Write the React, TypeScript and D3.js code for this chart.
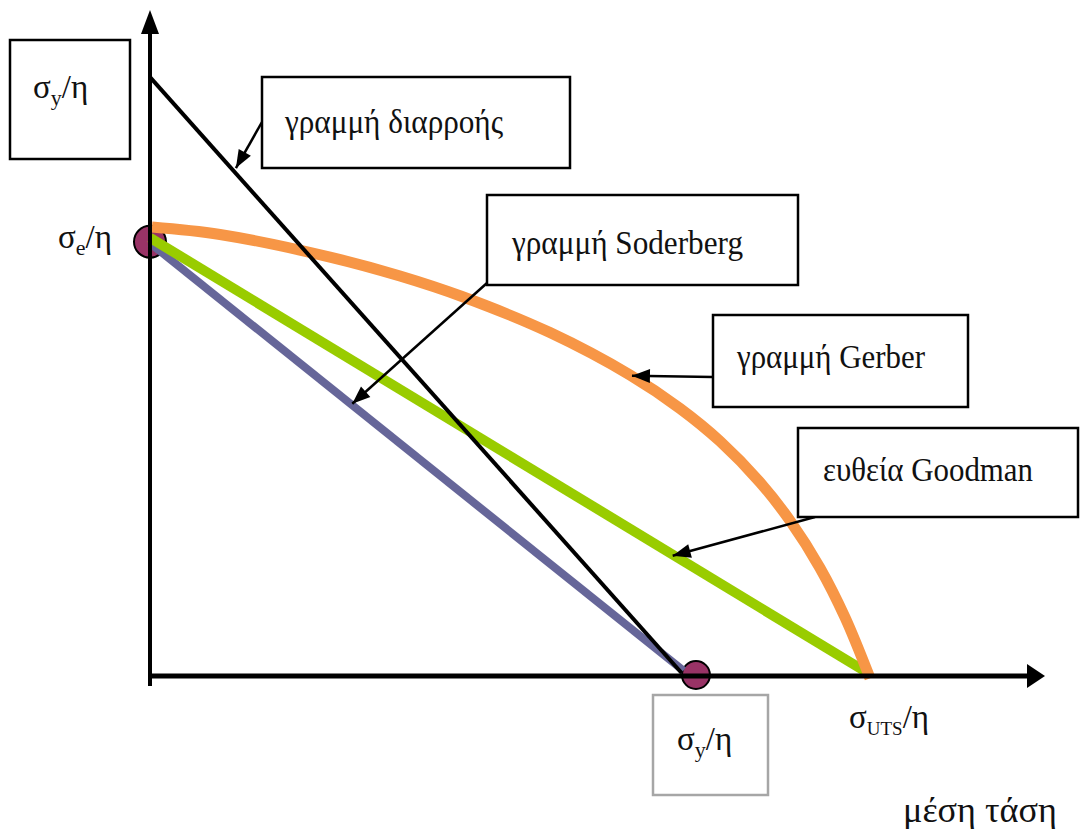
import React from "react";
import * as d3 from "d3";

// Stress units on both axes (0..100 spans each axis up to its arrow tip)
const yieldLine: [number, number][] = [[0, 90.2], [59.4, 0.45]];
const soderbergLine: [number, number][] = [[0, 65.2], [59.6, 0.8]];
const goodmanLine: [number, number][] = [[0, 66.0], [80.4, 0.3]];
const gerberCurve: [number, number][] = [
  [0.22, 67.62], [7.82, 66.49], [20.11, 63.09], [27.93, 60.24], [34.86, 57.15],
  [44.69, 51.72], [53.63, 45.33], [59.22, 40.29], [63.69, 35.35], [68.16, 29.17],
  [71.51, 23.4], [74.86, 16.27], [77.65, 8.84], [80.45, -0.35],
];
const enduranceMark: [number, number] = [0, 65.4];
const yieldMark: [number, number] = [61.0, 0.15];

const calloutLabels = ["γραμμή διαρροής", "γραμμή Soderberg", "γραμμή Gerber", "ευθεία Goodman"];
// where each callout arrow lands on its line
const calloutTargets: [number, number][] = [[9.6, 76.5], [22.6, 41.0], [53.85, 45.2], [58.4, 18.1]];

const W = 1080;
const H = 829;
const FONT = "Liberation Serif, Tinos, DejaVu Serif, serif";

const x = d3.scaleLinear().domain([0, 100]).range([150, 1045]);
const y = d3.scaleLinear().domain([0, 100]).range([676, 12]);

const lineGen = d3.line<[number, number]>().x((d) => x(d[0])).y((d) => y(d[1]));
const curveGen = d3
  .line<[number, number]>()
  .x((d) => x(d[0]))
  .y((d) => y(d[1]))
  .curve(d3.curveCatmullRom.alpha(0.5));

function arrowHead(x1: number, y1: number, x2: number, y2: number, len = 18, half = 7) {
  const a = Math.atan2(y2 - y1, x2 - x1);
  const bx = x2 - len * Math.cos(a);
  const by = y2 - len * Math.sin(a);
  const px = -Math.sin(a) * half;
  const py = Math.cos(a) * half;
  return `${x2},${y2} ${bx + px},${by + py} ${bx - px},${by - py}`;
}

type Box = { x: number; y: number; w: number; h: number; tx: number; ty: number; tl: number; from: [number, number] };
const boxes: Box[] = [
  { x: 262, y: 77, w: 308, h: 91, tx: 285, ty: 133, tl: 218, from: [262, 122] },
  { x: 487, y: 195, w: 311, h: 90, tx: 512, ty: 254, tl: 231, from: [487, 283] },
  { x: 713, y: 315, w: 255, h: 92, tx: 737, ty: 368, tl: 188, from: [713, 377] },
  { x: 798, y: 428, w: 280, h: 89, tx: 823, ty: 481, tl: 210, from: [815, 517] },
];

const textStyle = { fontFamily: FONT };

function SigmaLabel({ tx, ty, sub, subSize = 22 }: { tx: number; ty: number; sub: string; subSize?: number }) {
  return (
    <text x={tx} y={ty} fontSize={33} fill="#111" style={textStyle}>
      σ
      <tspan fontSize={subSize} dy={7}>{sub}</tspan>
      <tspan dy={-7}>/η</tspan>
    </text>
  );
}

export default function App() {
  return (
    <svg width={W} height={H} style={{ position: "absolute", left: 0, top: 0, background: "#fff" }}>
      <rect width={W} height={H} fill="#fff" />

      {/* endpoint markers */}
      <circle cx={x(enduranceMark[0])} cy={y(enduranceMark[1])} r={16} fill="#993366" stroke="#000" strokeWidth={2} />
      <circle cx={x(yieldMark[0])} cy={y(yieldMark[1])} r={14} fill="#993366" stroke="#000" strokeWidth={2} />

      {/* failure criteria */}
      <path d={lineGen(soderbergLine) ?? ""} stroke="#666699" strokeWidth={8} fill="none" />
      <path d={lineGen(goodmanLine) ?? ""} stroke="#99CC00" strokeWidth={10} fill="none" />
      <path d={curveGen(gerberCurve) ?? ""} stroke="#F79646" strokeWidth={11} fill="none" />
      <path d={lineGen(yieldLine) ?? ""} stroke="#000" strokeWidth={4} fill="none" />

      {/* axes */}
      <line x1={x(0)} y1={y(-1.5)} x2={x(0)} y2={y(100) + 10} stroke="#000" strokeWidth={4} />
      <polygon points={arrowHead(x(0), y(0), x(0), y(100) - 2, 24, 9)} fill="#000" />
      <line x1={x(0)} y1={y(0)} x2={x(100) - 10} y2={y(0)} stroke="#000" strokeWidth={5} />
      <polygon points={arrowHead(x(0), y(0), x(100), y(0), 18, 12)} fill="#000" />

      {/* callouts */}
      {boxes.map((b, i) => {
        const [tx, ty] = [x(calloutTargets[i][0]), y(calloutTargets[i][1])];
        return (
          <g key={calloutLabels[i]}>
            <line x1={b.from[0]} y1={b.from[1]} x2={tx} y2={ty} stroke="#000" strokeWidth={2.5} />
            <polygon points={arrowHead(b.from[0], b.from[1], tx, ty, 18, 7)} fill="#000" />
            <rect x={b.x} y={b.y} width={b.w} height={b.h} fill="#fff" stroke="#000" strokeWidth={2.5} />
            <text
              x={b.tx}
              y={b.ty}
              fontSize={33}
              fill="#111"
              style={textStyle}
              textLength={b.tl}
              lengthAdjust="spacingAndGlyphs"
            >
              {calloutLabels[i]}
            </text>
          </g>
        );
      })}

      {/* axis value labels */}
      <rect x={10} y={40} width={120} height={119} fill="#fff" stroke="#000" strokeWidth={2.5} />
      <SigmaLabel tx={33} ty={98} sub="y" />
      <SigmaLabel tx={58} ty={248} sub="e" />
      <rect x={653} y={695} width={115} height={100} fill="#fff" stroke="#A6A6A6" strokeWidth={2.5} />
      <SigmaLabel tx={677} ty={750} sub="y" />
      <SigmaLabel tx={849} ty={728} sub="UTS" subSize={19} />

      <text x={903} y={822} fontSize={36} fill="#111" style={textStyle} textLength={154} lengthAdjust="spacingAndGlyphs">
        μέση τάση
      </text>
    </svg>
  );
}
